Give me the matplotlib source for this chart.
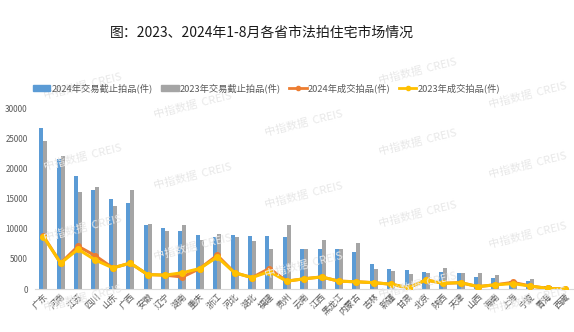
import numpy as np
import matplotlib
matplotlib.use("Agg")
import matplotlib.pyplot as plt
from matplotlib.patches import Patch
from matplotlib.lines import Line2D

plt.rcParams['font.family'] = ['Noto Sans CJK SC', 'DejaVu Sans']

provinces = ['广东', '河南', '江苏', '四川', '山东', '广西', '安徽', '辽宁', '湖南', '重庆',
             '浙江', '河北', '湖北', '福建', '贵州', '云南', '江西', '黑龙江', '内蒙古', '吉林',
             '新疆', '甘肃', '北京', '陕西', '天津', '山西', '海南', '上海', '宁夏', '青海', '西藏']
listed_2024 = [26700, 21500, 18800, 16400, 15000, 14300, 10600, 10200, 9700, 9000,
               8600, 8900, 8800, 8800, 8700, 6600, 6600, 6600, 6100, 4100,
               3300, 3100, 2800, 2800, 2700, 2000, 1900, 1300, 1300, 500, 80]
listed_2023 = [24500, 22100, 16100, 16900, 13800, 16500, 10800, 9700, 10700, 8200,
               9200, 8600, 8000, 6700, 10700, 6700, 8100, 6700, 7700, 3300,
               3000, 2500, 2600, 3500, 2600, 2600, 2300, 1300, 1700, 500, 80]
sold_2024 = [8800, 4300, 7100, 5500, 3500, 4300, 2400, 2300, 2000, 3400,
             5600, 2700, 1900, 3400, 1300, 1700, 2000, 1300, 1200, 1050,
             800, 200, 1500, 950, 1050, 400, 700, 1100, 500, 100, 20]
sold_2023 = [8700, 4300, 6600, 4800, 3500, 4300, 2400, 2300, 2700, 3400,
             5300, 2700, 1900, 2900, 1300, 1700, 2000, 1300, 1200, 1050,
             800, 200, 1500, 950, 1050, 400, 700, 900, 500, 100, 20]

c_blue = '#5B9BD5'
c_gray = '#A5A5A5'
c_orange = '#ED7D31'
c_yellow = '#FFC000'
c_text = '#595959'

fig = plt.figure(figsize=(5.74, 3.32), dpi=100)
ax = fig.add_axes([0.0603, 0.1295, 0.9392, 0.5443])

# faint watermark tiles
wm_cols = {83: [86, 157, 228, 298], 193: [105, 176, 247], 304: [123, 195, 265],
           418: [71, 142, 214, 285], 528: [95, 165, 235, 300]}
for wx, ys in wm_cols.items():
    for wy in ys:
        fig.text(wx / 574, 1 - wy / 332, '中指数据  CREIS', fontsize=8,
                 color='#e8e8e8', rotation=14, ha='center', va='center', zorder=0)

x = np.arange(len(provinces))
w = 0.23
ax.bar(x - w / 2, listed_2024, w, color=c_blue, zorder=2)
ax.bar(x + w / 2, listed_2023, w, color=c_gray, zorder=2)
ax.plot(x, sold_2024, color=c_orange, lw=2.2, marker='o', ms=4, zorder=3)
ax.plot(x, sold_2023, color=c_yellow, lw=2.2, marker='o', ms=4, zorder=4)

ax.set_xlim(-0.5, len(provinces) - 0.5)
ax.set_ylim(0, 30000)
ax.set_yticks(range(0, 30001, 5000))
ax.tick_params(axis='y', length=0, labelsize=5.8, labelcolor=c_text, pad=5)
ax.set_xticks(x)
ax.set_xticklabels(provinces, rotation=45, ha='right', rotation_mode='anchor')
ax.tick_params(axis='x', length=0, labelsize=6.3, labelcolor=c_text, pad=2)
for s in ['top', 'right', 'left']:
    ax.spines[s].set_visible(False)
ax.spines['bottom'].set_color('#D9D9D9')
ax.patch.set_alpha(0)

fig.text(0.457, 0.902, '图：2023、2024年1-8月各省市法拍住宅市场情况', fontsize=10,
         ha='center', va='center', color='#1a1a1a')

handles = [Patch(color=c_blue), Patch(color=c_gray),
           Line2D([], [], color=c_orange, lw=2, marker='o', ms=3),
           Line2D([], [], color=c_yellow, lw=2, marker='o', ms=3)]
labels = ['2024年交易截止拍品(件)', '2023年交易截止拍品(件)', '2024年成交拍品(件)', '2023年成交拍品(件)']
fig.legend(handles, labels, loc='center', bbox_to_anchor=(0.464, 0.735), ncol=4, frameon=False,
           fontsize=6.7, labelcolor=c_text, handlelength=1.9, handleheight=0.6, handletextpad=0.1,
           columnspacing=0.9)

fig.savefig('out.png', dpi=100)
